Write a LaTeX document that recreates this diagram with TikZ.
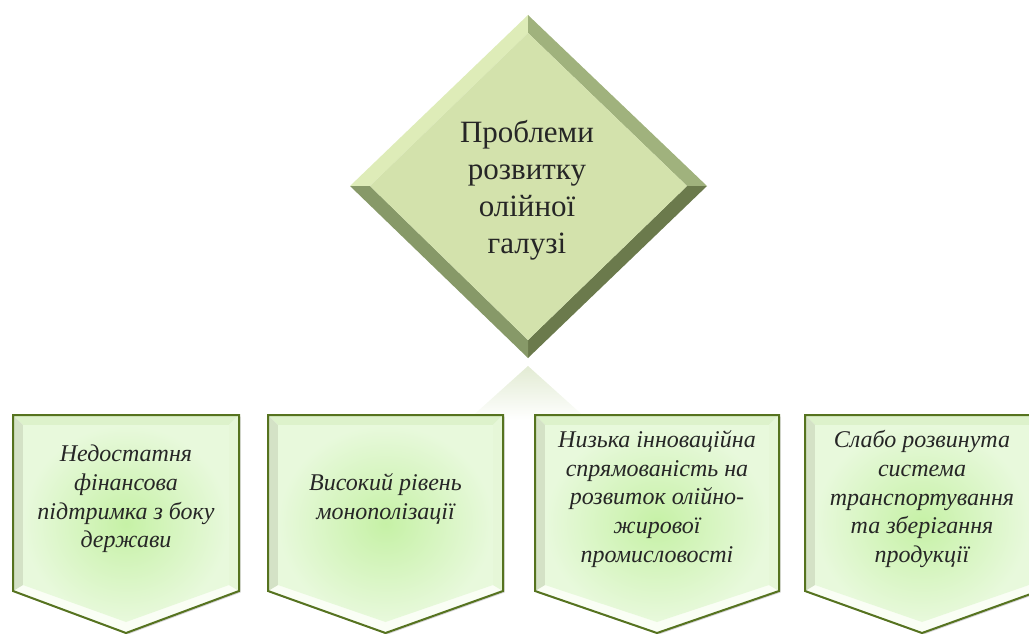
\documentclass[tikz,border=0pt]{standalone}
\usepackage{fontspec}
\setmainfont{Liberation Serif}
\usetikzlibrary{shadows}

% colours of the diamond
\definecolor{diamondface}{HTML}{D3E2AC}
\definecolor{diamondtl}{HTML}{DEECB8}
\definecolor{diamondtr}{HTML}{A0B27D}
\definecolor{diamondbr}{HTML}{6B7A4C}
\definecolor{diamondbl}{HTML}{879968}
% colours of the boxes
\definecolor{boxline}{HTML}{56731F}
\definecolor{boxcore}{HTML}{C6F1A6}
\definecolor{boxpale}{HTML}{E8F9DC}
\definecolor{boxtop}{HTML}{DDF2CB}
\definecolor{boxleft}{HTML}{D4E2C6}
\definecolor{boxright}{HTML}{E6F7D8}
\definecolor{boxbottom}{HTML}{FAFEF5}
\definecolor{reflect}{HTML}{E2EBD3}

% one downward arrow box: name, left x, right x, text
\newcommand{\problembox}[4]{%
  \pgfmathsetmacro{\boxL}{#2}\pgfmathsetmacro{\boxR}{#3}%
  \pgfmathsetmacro{\boxM}{(#2+#3)/2}%
  \pgfmathsetmacro{\boxIL}{#2+10}\pgfmathsetmacro{\boxIR}{#3-10}%
  % outer shape with shadow
  \fill[boxbottom, drop shadow={opacity=0.35, shadow xshift=1.5pt, shadow yshift=-1.5pt}]
    (\boxL,415) -- (\boxR,415) -- (\boxR,591) -- (\boxM,633) -- (\boxL,591) -- cycle;
  % bevel bands
  \fill[boxtop] (\boxL,415) -- (\boxR,415) -- (\boxIR,425) -- (\boxIL,425) -- cycle;
  \fill[boxleft] (\boxL,415) -- (\boxIL,425) -- (\boxIL,585) -- (\boxL,591) -- cycle;
  \fill[boxright] (\boxR,415) -- (\boxIR,425) -- (\boxIR,585) -- (\boxR,591) -- cycle;
  % inner face
  \shade[inner color=boxcore, outer color=boxpale]
    (\boxIL,425) -- (\boxIR,425) -- (\boxIR,585) -- (\boxM,622) -- (\boxIL,585) -- cycle;
  % border
  \draw[boxline, line width=2pt, line join=miter]
    (\boxL,415) -- (\boxR,415) -- (\boxR,591) -- (\boxM,633) -- (\boxL,591) -- cycle;
  \node[boxtext] (#1) at (\boxM,499) {#4};
}

\begin{document}
\begin{tikzpicture}[
    x=1pt, y=-1pt,
    title/.style={align=center, font=\fontsize{31}{37}\selectfont, text=black!85},
    boxtext/.style={align=center, font=\fontsize{24}{28.8}\selectfont\itshape, text=black!85}
    ]
    \useasboundingbox (0,0) rectangle (1029,634);

    % corners of the diamond, outer and inner
    \coordinate (dT) at (528,15);
    \coordinate (dR) at (707,186);
    \coordinate (dB) at (528,358);
    \coordinate (dL) at (350,186);
    \coordinate (iT) at (528,33);
    \coordinate (iR) at (687,186);
    \coordinate (iB) at (528,340);
    \coordinate (iL) at (370,186);

    % faint reflection under the diamond
    \shade[top color=reflect, bottom color=white] (528,366) -- (588,420) -- (468,420) -- cycle;

    % bevelled diamond
    \fill[diamondtl] (dT) -- (dL) -- (iL) -- (iT) -- cycle;
    \fill[diamondtr] (dT) -- (dR) -- (iR) -- (iT) -- cycle;
    \fill[diamondbr] (dR) -- (dB) -- (iB) -- (iR) -- cycle;
    \fill[diamondbl] (dB) -- (dL) -- (iL) -- (iB) -- cycle;
    \fill[diamondface] (iT) -- (iR) -- (iB) -- (iL) -- cycle;
    \node[title] (problems) at (527,190) {Проблеми\\розвитку\\олійної\\галузі};

    % the four problems
    \problembox{finance}{13}{239}{Недостатня\\фінансова\\підтримка з боку\\держави}
    \problembox{monopoly}{268}{503}{Високий рівень\\монополізації}
    \problembox{innovation}{535}{779}{Низька інноваційна\\спрямованість на\\розвиток олійно-\\жирової\\промисловості}
    \problembox{transport}{805}{1039}{Слабо розвинута\\система\\транспортування\\та зберігання\\продукції}

\end{tikzpicture}
\end{document}
